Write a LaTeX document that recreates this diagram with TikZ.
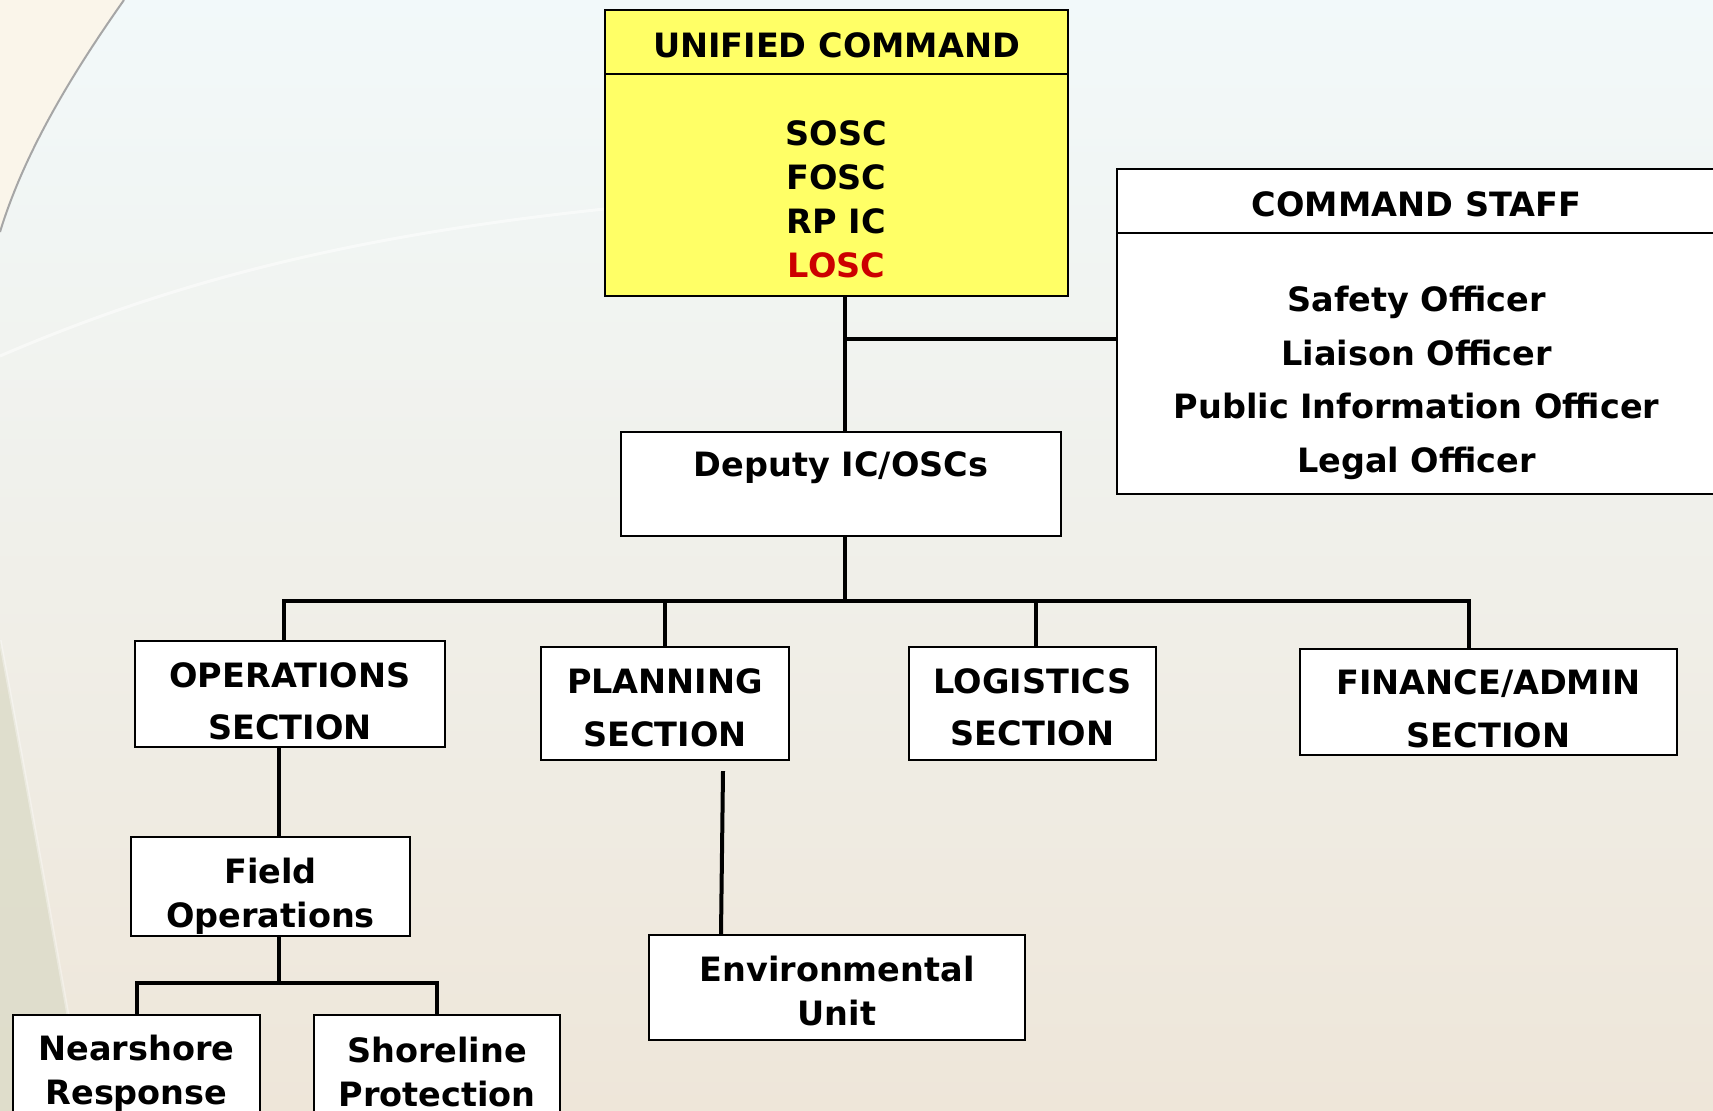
\documentclass[tikz,border=0pt]{standalone}
\usepackage{fontspec}
\setmainfont{DejaVu Sans}
\definecolor{ucyellow}{HTML}{FFFF66}
\definecolor{losc}{HTML}{CC0000}
\definecolor{skyback}{HTML}{F2F9FA}
\definecolor{paleback}{HTML}{E8F5FA}
\definecolor{sandback}{HTML}{EEE6D9}
\definecolor{creamback}{HTML}{FAF5EA}
\definecolor{stoneback}{HTML}{DCDBC8}
\tikzset{
  box/.style={draw, line width=1.1pt, fill=white, inner sep=0pt},
  txt/.style={inner sep=0pt, align=center},
  sect/.style={txt, font=\bfseries\fontsize{16.75}{26.2}\selectfont},
  link/.style={line width=2pt},
}
\begin{document}
\begin{tikzpicture}[x=0.5pt, y=-0.5pt, font=\bfseries\fontsize{16.75}{22}\selectfont]
                \useasboundingbox (0,0) rectangle (1713,1111);
                %% background
                \shade[top color=skyback, middle color=paleback, bottom color=sandback] (0,0) rectangle (1713,1111);
                \fill[creamback] (0,0) -- (124,0) .. controls (64,85) and (22,160) .. (0,232) -- cycle;
                \draw[gray!70, line width=1pt] (124,0) .. controls (64,85) and (22,160) .. (0,232);
                \fill[stoneback, opacity=.8] (0,640) .. controls (30,800) and (60,970) .. (85,1111) -- (0,1111) -- cycle;
                \draw[white, opacity=.35, line width=1.5pt] (0,640) .. controls (30,800) and (60,970) .. (85,1111);
                \draw[white, opacity=.5, line width=1.5pt] (0,356) .. controls (200,270) and (400,225) .. (700,200);
                %% unified command
                \node[box, fill=ucyellow, minimum width=231.5pt, minimum height=32pt] (ucHead) at (836.5,42) {};
                \node[txt] (ucTitle) at (836.5,45) {UNIFIED COMMAND};
                \node[box, fill=ucyellow, minimum width=231.5pt, minimum height=111pt] (ucBody) at (836.5,185) {};
                \node[txt] (ucNames) at (836.5,199) {SOSC\\FOSC\\RP IC\\\textcolor{losc}{LOSC}};
                %% command staff
                \node[box, minimum width=299.5pt, minimum height=32pt] (csHead) at (1416.5,201) {};
                \node[txt] (csTitle) at (1416.5,204) {COMMAND STAFF};
                \node[box, minimum width=299.5pt, minimum height=130.5pt] (csBody) at (1416.5,363.5) {};
                \node[txt, font=\bfseries\fontsize{16.75}{26.75}\selectfont] (csNames) at (1416.5,383) {Safety Officer\\Liaison Officer\\Public Information Officer\\Legal Officer};
                %% deputy
                \node[box, minimum width=220pt, minimum height=52pt] (deputy) at (841,484) {};
                \node[txt] (deputyName) at (841,467.4) {Deputy IC/OSCs};
                %% sections
                \node[box, minimum width=155pt, minimum height=53pt] (ops) at (290,694) {};
                \node[sect] (opsName) at (290,701.6) {OPERATIONS\\SECTION};
                \node[box, minimum width=124pt, minimum height=56.5pt] (plan) at (665,703.5) {};
                \node[sect] (planName) at (665,708) {PLANNING\\SECTION};
                \node[box, minimum width=123.5pt, minimum height=56.5pt] (logi) at (1032.5,703.5) {};
                \node[sect] (logiName) at (1032.5,707.5) {LOGISTICS\\SECTION};
                \node[box, minimum width=188.5pt, minimum height=53pt] (fin) at (1488.5,702) {};
                \node[sect] (finName) at (1488.5,709) {FINANCE/ADMIN\\SECTION};
                %% units
                \node[box, minimum width=139.5pt, minimum height=49.5pt] (field) at (270.5,886.5) {};
                \node[txt] (fieldName) at (270.5,896.3) {Field\\Operations};
                \node[box, minimum width=188pt, minimum height=52.5pt] (env) at (837,987.5) {};
                \node[txt] (envName) at (837,990.8) {Environmental\\Unit};
                \node[box, minimum width=123.5pt, minimum height=59pt] (near) at (136.5,1074) {};
                \node[txt] (nearName) at (136.5,1073.5) {Nearshore\\Response};
                \node[box, minimum width=123pt, minimum height=59pt] (shore) at (437,1074) {};
                \node[txt] (shoreName) at (437,1072) {Shoreline\\Protection};
                %% links
                \coordinate (trunk) at (845,339);
                \coordinate (bus) at (845,601);
                \coordinate (fbus) at (279,983);
                \draw[link] (ucBody.south -| trunk) -- (deputy.north -| trunk);
                \draw[link] (trunk) -- (csBody.west |- trunk);
                \draw[link] (deputy.south -| bus) -- (bus);
                \draw[link] ([xshift=-3pt]ops.north) |- (bus) -| ([xshift=-9.75pt]fin.north);
                \draw[link] (plan.north) |- (bus);
                \draw[link] ([xshift=1.75pt]logi.north) |- (bus);
                \draw[link] ([xshift=29pt,yshift=-5pt]plan.south) -- ([xshift=-58pt]env.north);
                \draw[link] ([xshift=-5.5pt]ops.south) -- ([xshift=4.25pt]field.north);
                \draw[link] ([xshift=4.25pt]field.south) -- (fbus);
                \draw[link] (near.north) |- (fbus) -| (shore.north);
            \end{tikzpicture}
\end{document}
